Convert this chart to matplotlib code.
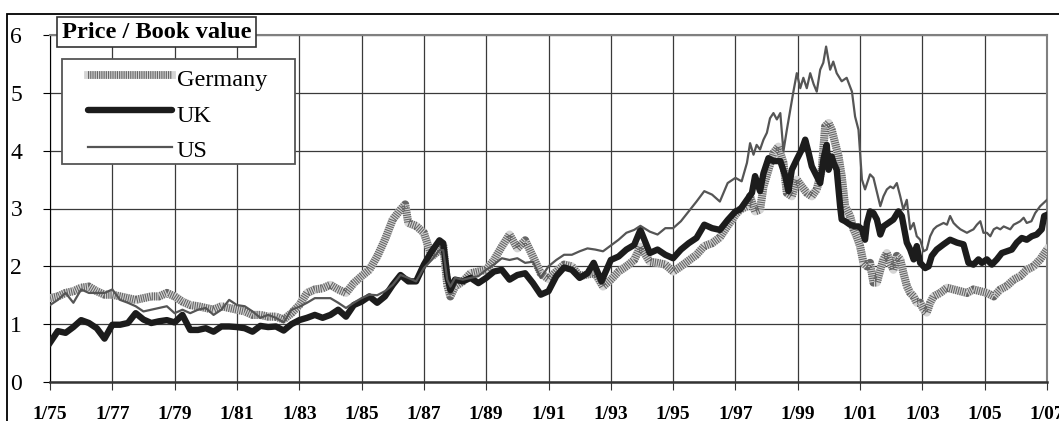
import matplotlib.pyplot as plt
from matplotlib.patches import Rectangle
from matplotlib.lines import Line2D

plt.rcParams['font.family'] = ['Liberation Serif', 'DejaVu Serif']
plt.rcParams['lines.scale_dashes'] = False

# axis ticks
tick_years = list(range(1975, 2008, 2))
tick_labels = [f"1/{y % 100:02d}" for y in tick_years]
y_ticks = [0, 1, 2, 3, 4, 5, 6]

# Price / Book value
de_t = [1975.0, 1975.25, 1975.5, 1975.75, 1976.0, 1976.25, 1976.5, 1976.75,
        1977.0, 1977.25, 1977.5, 1977.75, 1978.0, 1978.25, 1978.5, 1978.75,
        1979.0, 1979.25, 1979.5, 1979.75, 1980.0, 1980.25, 1980.5, 1980.75,
        1981.0, 1981.25, 1981.5, 1981.75, 1982.0, 1982.25, 1982.5, 1982.75,
        1983.0, 1983.25, 1983.5, 1983.75, 1984.0, 1984.25, 1984.5, 1984.75,
        1985.0, 1985.25, 1985.5, 1985.75, 1986.0, 1986.25, 1986.4, 1986.5,
        1986.75, 1987.0, 1987.25, 1987.5, 1987.62, 1987.75, 1987.85, 1988.0,
        1988.25, 1988.5, 1988.75, 1989.0, 1989.25, 1989.5, 1989.75, 1990.0,
        1990.25, 1990.5, 1990.75, 1991.0, 1991.25, 1991.5, 1991.75, 1992.0,
        1992.25, 1992.5, 1992.75, 1993.0, 1993.25, 1993.5, 1993.75, 1993.95,
        1994.25, 1994.5, 1994.75, 1995.0, 1995.25, 1995.5, 1995.75, 1996.0,
        1996.25, 1996.5, 1996.75, 1997.0, 1997.15, 1997.37, 1997.47, 1997.63,
        1997.79, 1997.9, 1998.06, 1998.22, 1998.38, 1998.54, 1998.65, 1998.81,
        1998.97, 1999.13, 1999.29, 1999.45, 1999.61, 1999.77, 1999.88, 1999.99,
        2000.09, 2000.2, 2000.31, 2000.41, 2000.52, 2000.68, 2000.79, 2000.89,
        2001.0, 2001.11, 2001.22, 2001.32, 2001.43, 2001.54, 2001.65, 2001.75,
        2001.86, 2001.97, 2002.07, 2002.18, 2002.29, 2002.39, 2002.5, 2002.61,
        2002.72, 2002.82, 2002.93, 2003.04, 2003.14, 2003.25, 2003.36, 2003.57,
        2003.79, 2004.0, 2004.22, 2004.43, 2004.64, 2004.86, 2005.07, 2005.29,
        2005.5, 2005.71, 2005.93, 2006.14, 2006.35, 2006.57, 2006.78, 2007.0]
de_v = [1.45, 1.48, 1.54, 1.57, 1.63, 1.65, 1.57, 1.51,
        1.51, 1.48, 1.45, 1.42, 1.45, 1.48, 1.48, 1.54,
        1.48, 1.39, 1.33, 1.31, 1.28, 1.25, 1.31, 1.28,
        1.25, 1.22, 1.16, 1.16, 1.13, 1.13, 1.08, 1.19,
        1.33, 1.54, 1.60, 1.62, 1.68, 1.60, 1.54, 1.71,
        1.83, 1.94, 2.17, 2.46, 2.81, 2.98, 3.07, 2.75,
        2.70, 2.58, 2.17, 2.28, 2.37, 1.68, 1.48, 1.65,
        1.74, 1.88, 1.91, 1.94, 2.11, 2.34, 2.55, 2.31,
        2.45, 2.17, 1.88, 1.78, 1.91, 2.03, 2.00, 1.83,
        1.86, 1.88, 1.65, 1.77, 1.91, 2.00, 2.11, 2.34,
        2.08, 2.06, 2.03, 1.91, 2.00, 2.10, 2.20, 2.35,
        2.40, 2.50, 2.70, 2.89, 2.98, 3.04, 3.21, 2.95,
        2.98, 3.38, 3.67, 3.96, 4.07, 3.79, 3.27, 3.21,
        3.50, 3.38, 3.27, 3.21, 3.33, 3.67, 4.42, 4.48,
        4.36, 4.13, 3.90, 3.56, 3.04, 2.87, 2.64, 2.52,
        2.35, 2.06, 2.00, 2.06, 1.72, 1.72, 1.94, 2.12,
        2.23, 2.06, 1.94, 2.18, 2.12, 1.89, 1.66, 1.54,
        1.48, 1.37, 1.37, 1.25, 1.20, 1.37, 1.48, 1.54,
        1.63, 1.60, 1.57, 1.54, 1.60, 1.57, 1.54, 1.48,
        1.60, 1.66, 1.77, 1.83, 1.94, 2.00, 2.12, 2.29]

uk_t = [1975.0, 1975.25, 1975.5, 1975.75, 1976.0, 1976.25, 1976.5, 1976.75,
        1977.0, 1977.25, 1977.5, 1977.75, 1978.0, 1978.25, 1978.5, 1978.75,
        1979.0, 1979.25, 1979.5, 1979.75, 1980.0, 1980.25, 1980.5, 1980.75,
        1981.0, 1981.25, 1981.5, 1981.75, 1982.0, 1982.25, 1982.5, 1982.75,
        1983.0, 1983.25, 1983.5, 1983.75, 1984.0, 1984.25, 1984.5, 1984.75,
        1985.0, 1985.25, 1985.5, 1985.75, 1986.0, 1986.25, 1986.5, 1986.75,
        1987.0, 1987.25, 1987.5, 1987.62, 1987.75, 1987.85, 1988.0, 1988.25,
        1988.5, 1988.75, 1989.0, 1989.25, 1989.5, 1989.75, 1990.0, 1990.25,
        1990.5, 1990.75, 1991.0, 1991.25, 1991.5, 1991.75, 1992.0, 1992.25,
        1992.45, 1992.7, 1993.0, 1993.25, 1993.5, 1993.75, 1993.95, 1994.25,
        1994.5, 1994.75, 1995.0, 1995.25, 1995.5, 1995.75, 1996.0, 1996.25,
        1996.5, 1996.75, 1997.0, 1997.15, 1997.37, 1997.53, 1997.63, 1997.79,
        1997.9, 1998.06, 1998.22, 1998.44, 1998.6, 1998.7, 1998.81, 1998.97,
        1999.13, 1999.24, 1999.35, 1999.45, 1999.61, 1999.72, 1999.83, 1999.93,
        1999.99, 2000.09, 2000.15, 2000.25, 2000.36, 2000.41, 2000.52, 2000.68,
        2000.84, 2000.95, 2001.06, 2001.16, 2001.22, 2001.32, 2001.43, 2001.54,
        2001.65, 2001.75, 2001.91, 2002.07, 2002.23, 2002.34, 2002.5, 2002.61,
        2002.72, 2002.82, 2002.93, 2003.09, 2003.2, 2003.3, 2003.46, 2003.68,
        2003.89, 2004.11, 2004.32, 2004.48, 2004.64, 2004.8, 2004.91, 2005.07,
        2005.23, 2005.39, 2005.55, 2005.71, 2005.87, 2006.03, 2006.19, 2006.35,
        2006.51, 2006.67, 2006.83, 2006.91, 2007.0]
uk_v = [0.68, 0.88, 0.85, 0.95, 1.07, 1.02, 0.93, 0.75,
        0.99, 0.99, 1.02, 1.19, 1.08, 1.02, 1.05, 1.07,
        1.03, 1.16, 0.90, 0.90, 0.93, 0.87, 0.96, 0.96,
        0.95, 0.93, 0.87, 0.97, 0.95, 0.96, 0.89, 1.00,
        1.07, 1.11, 1.16, 1.11, 1.16, 1.25, 1.13, 1.33,
        1.39, 1.48, 1.37, 1.48, 1.68, 1.85, 1.74, 1.74,
        2.03, 2.26, 2.45, 2.40, 1.83, 1.59, 1.77, 1.74,
        1.80, 1.71, 1.80, 1.91, 1.94, 1.77, 1.85, 1.88,
        1.71, 1.51, 1.57, 1.83, 1.98, 1.94, 1.80, 1.88,
        2.06, 1.74, 2.11, 2.17, 2.29, 2.37, 2.63, 2.23,
        2.29, 2.20, 2.14, 2.29, 2.40, 2.49, 2.72, 2.66,
        2.63, 2.80, 2.95, 2.98, 3.15, 3.27, 3.56, 3.30,
        3.61, 3.87, 3.82, 3.82, 3.56, 3.30, 3.67, 3.85,
        4.02, 4.19, 3.96, 3.73, 3.56, 3.44, 3.87, 4.10,
        3.67, 3.90, 3.79, 3.67, 3.04, 2.81, 2.78, 2.72,
        2.69, 2.69, 2.64, 2.46, 2.75, 2.95, 2.92, 2.81,
        2.55, 2.69, 2.75, 2.81, 2.95, 2.87, 2.41, 2.29,
        2.12, 2.35, 2.06, 1.97, 2.00, 2.18, 2.29, 2.38,
        2.46, 2.41, 2.38, 2.06, 2.03, 2.12, 2.06, 2.12,
        2.03, 2.12, 2.23, 2.26, 2.29, 2.41, 2.49, 2.46,
        2.52, 2.55, 2.64, 2.87, 2.89]

us_t = [1975.0, 1975.25, 1975.5, 1975.75, 1976.0, 1976.25, 1976.5, 1976.75,
        1977.0, 1977.25, 1977.5, 1977.75, 1978.0, 1978.25, 1978.5, 1978.75,
        1979.0, 1979.25, 1979.5, 1979.75, 1980.0, 1980.25, 1980.5, 1980.75,
        1981.0, 1981.25, 1981.5, 1981.75, 1982.0, 1982.25, 1982.5, 1982.75,
        1983.0, 1983.25, 1983.5, 1983.75, 1984.0, 1984.25, 1984.5, 1984.75,
        1985.0, 1985.25, 1985.5, 1985.75, 1986.0, 1986.25, 1986.5, 1986.75,
        1987.0, 1987.25, 1987.5, 1987.62, 1987.75, 1987.85, 1988.0, 1988.25,
        1988.5, 1988.75, 1989.0, 1989.25, 1989.5, 1989.75, 1990.0, 1990.25,
        1990.5, 1990.75, 1991.0, 1991.25, 1991.5, 1991.75, 1992.0, 1992.25,
        1992.5, 1992.75, 1993.0, 1993.25, 1993.5, 1993.75, 1993.95, 1994.25,
        1994.5, 1994.75, 1995.0, 1995.25, 1995.5, 1995.75, 1996.0, 1996.25,
        1996.5, 1996.75, 1997.0, 1997.2, 1997.37, 1997.47, 1997.58, 1997.68,
        1997.79, 1997.9, 1998.01, 1998.11, 1998.22, 1998.33, 1998.44, 1998.54,
        1998.65, 1998.86, 1998.97, 1999.08, 1999.18, 1999.29, 1999.4, 1999.51,
        1999.61, 1999.72, 1999.82, 1999.91, 2000.04, 2000.14, 2000.25, 2000.41,
        2000.57, 2000.74, 2000.84, 2000.95, 2001.06, 2001.16, 2001.32, 2001.43,
        2001.65, 2001.75, 2001.86, 2001.97, 2002.07, 2002.18, 2002.29, 2002.39,
        2002.5, 2002.61, 2002.72, 2002.82, 2002.93, 2003.04, 2003.14, 2003.25,
        2003.36, 2003.46, 2003.68, 2003.79, 2003.89, 2004.0, 2004.11, 2004.22,
        2004.43, 2004.53, 2004.64, 2004.75, 2004.86, 2004.96, 2005.07, 2005.18,
        2005.29, 2005.39, 2005.5, 2005.61, 2005.82, 2005.93, 2006.04, 2006.14,
        2006.25, 2006.35, 2006.5, 2006.62, 2006.78, 2007.0]
us_v = [1.33, 1.42, 1.54, 1.37, 1.60, 1.54, 1.54, 1.54,
        1.60, 1.42, 1.37, 1.31, 1.22, 1.25, 1.28, 1.31,
        1.19, 1.25, 1.19, 1.25, 1.28, 1.16, 1.25, 1.42,
        1.33, 1.31, 1.22, 1.11, 1.16, 1.11, 1.03, 1.25,
        1.30, 1.37, 1.45, 1.45, 1.45, 1.37, 1.28, 1.37,
        1.45, 1.51, 1.50, 1.57, 1.68, 1.85, 1.80, 1.74,
        1.97, 2.11, 2.28, 2.28, 1.77, 1.65, 1.80, 1.77,
        1.80, 1.83, 1.94, 2.03, 2.14, 2.11, 2.14, 2.06,
        2.08, 1.80, 2.00, 2.11, 2.20, 2.20, 2.26, 2.31,
        2.29, 2.26, 2.36, 2.46, 2.58, 2.63, 2.70, 2.60,
        2.55, 2.66, 2.66, 2.78, 2.95, 3.12, 3.30, 3.24,
        3.12, 3.44, 3.53, 3.47, 3.79, 4.13, 3.93, 4.10,
        4.02, 4.19, 4.31, 4.56, 4.65, 4.54, 4.65, 3.99,
        4.36, 5.02, 5.34, 5.08, 5.26, 5.08, 5.34, 5.15,
        5.02, 5.40, 5.52, 5.80, 5.40, 5.54, 5.34, 5.20,
        5.26, 5.02, 4.59, 4.36, 3.50, 3.33, 3.59, 3.53,
        3.04, 3.21, 3.33, 3.38, 3.35, 3.44, 3.21, 2.98,
        3.15, 2.64, 2.75, 2.52, 2.46, 2.26, 2.29, 2.52,
        2.64, 2.69, 2.75, 2.72, 2.87, 2.75, 2.69, 2.64,
        2.58, 2.61, 2.64, 2.72, 2.78, 2.58, 2.58, 2.52,
        2.64, 2.67, 2.64, 2.69, 2.64, 2.72, 2.75, 2.78,
        2.84, 2.75, 2.78, 2.92, 3.04, 3.15]

W, H = 1059, 421


def fx(px):
    return px / W


def fy(py):
    return 1 - py / H


fig = plt.figure(figsize=(W / 100, H / 100), dpi=100)
ax = fig.add_axes([fx(50), fy(382), (1047 - 50) / W, (382 - 35) / H])

# Germany is a stippled band: light base with a fine dash pattern on top
ax.plot(de_t, de_v, color='#d4d4d4', lw=5.8, solid_joinstyle='round', zorder=3)
ax.plot(de_t, de_v, color='#666666', lw=5.8, ls=(0, (0.8, 0.8)),
        dash_joinstyle='round', zorder=3, label='Germany')
ax.plot(uk_t, uk_v, color='#1c1c1c', lw=4.6, solid_joinstyle='round', zorder=4, label='UK')
ax.plot(us_t, us_v, color='#555555', lw=1.6, solid_joinstyle='round', zorder=5, label='US')

ax.set_xlim(1975, 2007)
ax.set_ylim(0, 6)
ax.set_xticks(tick_years)
ax.set_xticklabels(tick_labels, fontweight='bold', fontsize=14)
ax.set_yticks(y_ticks)
ax.tick_params(axis='y', labelsize=17, length=5, pad=15, direction='out')
ax.tick_params(axis='x', length=6, pad=11, direction='out', color='#333333')
ax.grid(True, color='#3a3a3a', lw=0.9)
ax.set_axisbelow(True)
ax.spines['left'].set_color('black')
ax.spines['bottom'].set_color('#333333')
ax.spines['bottom'].set_linewidth(1.8)
for s in ('top', 'right'):
    ax.spines[s].set_color('#808080')
    ax.spines[s].set_linewidth(1.5)

# outer frame
fig.add_artist(Rectangle((fx(7), -0.2), 1.2, fy(14) + 0.2, transform=fig.transFigure,
                         fill=False, ec='black', lw=1.3))

# title box
fig.text(fx(62), fy(32), 'Price / Book value', fontsize=17.6, fontweight='bold',
         ha='left', va='center',
         bbox=dict(boxstyle='square,pad=0.2', fc='white', ec='#333333', lw=1.2))

# legend
fig.add_artist(Rectangle((fx(62), fy(164)), (295 - 62) / W, (164 - 59) / H,
                         transform=fig.transFigure, fc='white', ec='#555555', lw=1.3))
legend_rows = [
    ('Germany', 75, 86, [dict(color='#d4d4d4', lw=5.6),
                         dict(color='#666666', lw=5.6, ls=(0, (0.8, 0.8)))]),
    ('UK', 110, 122, [dict(color='#1c1c1c', lw=4.6, solid_capstyle='round')]),
    ('US', 147, 157, [dict(color='#555555', lw=1.6)]),
]
for label, hy, by, styles in legend_rows:
    for st in styles:
        fig.add_artist(Line2D([fx(88), fx(172)], [fy(hy), fy(hy)],
                              transform=fig.transFigure, **st))
    fig.text(fx(177), fy(by), label, fontsize=17.5, ha='left', va='baseline')

fig.savefig('out.png', dpi=100)
